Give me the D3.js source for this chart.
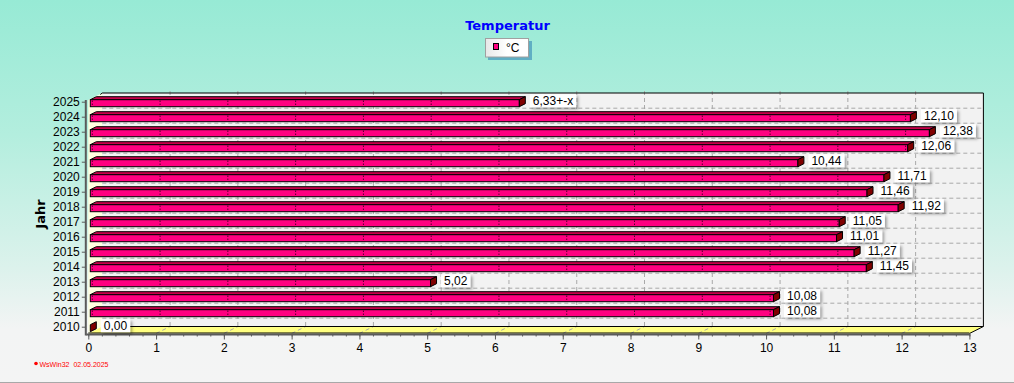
<!DOCTYPE html>
<html><head><meta charset="utf-8">
<script src="https://cdn.jsdelivr.net/npm/d3@7"></script>
<style>html,body{margin:0;padding:0;background:#f4f4f4;}svg{display:block;}</style>
</head><body>
<script>
// ---- data ----
const years = [2010,2011,2012,2013,2014,2015,2016,2017,2018,2019,2020,2021,2022,2023,2024,2025];
const temps = [0.00,10.08,10.08,5.02,11.45,11.27,11.01,11.05,11.92,11.46,11.71,10.44,12.06,12.38,12.10,6.33];
const labels = ["0,00","10,08","10,08","5,02","11,45","11,27","11,01","11,05","11,92","11,46","11,71","10,44","12,06","12,38","12,10","6,33+-x"];
const xTicks = [0,1,2,3,4,5,6,7,8,9,10,11,12,13];
const title = "Temperatur";
const seriesName = "°C";
const yTitle = "Jahr";
const footer = "WsWin32  02.05.2025";

const W = 1014, H = 383;
const svg = d3.select("body").append("svg").attr("width", W).attr("height", H);
const defs = svg.append("defs");
const bg = defs.append("linearGradient").attr("id","bg").attr("x1",0).attr("y1",0).attr("x2",0).attr("y2",1);
[[0,"#97ead5"],[0.35,"#b3eede"],[0.7,"#dcf2ec"],[0.86,"#f3f4f4"],[1,"#f4f4f4"]].forEach(s=>bg.append("stop").attr("offset",s[0]).attr("stop-color",s[1]));
const sh = defs.append("filter").attr("id","sh").attr("x","-20%").attr("y","-30%").attr("width","150%").attr("height","180%");
sh.append("feDropShadow").attr("dx",2).attr("dy",2).attr("stdDeviation",1.4).attr("flood-color","#000").attr("flood-opacity",0.35);
const lg = defs.append("linearGradient").attr("id","lg").attr("x1",0).attr("y1",0).attr("x2",1).attr("y2",0);
lg.append("stop").attr("offset",0).attr("stop-color","#e8e8e8");
lg.append("stop").attr("offset",0.5).attr("stop-color","#ffffff");
lg.append("stop").attr("offset",1).attr("stop-color","#ffffff");

svg.append("rect").attr("width",W).attr("height",H).attr("fill","url(#bg)");
svg.append("line").attr("x1",0).attr("x2",W).attr("y1",H-0.5).attr("y2",H-0.5).attr("stroke","#a8a8a8");

// ---- scales ----
const xs = d3.scaleLinear().domain([0,13]).range([88.3, 969.4]);
const ys = d3.scalePoint().domain(years).range([326.7, 101.7]);
const DX = 14, DY = 7;           // wall depth
const BX = 6, BY = 3;            // bar depth
const yTop = 100, yBot = 333.5;  // front plane extents
const x0 = xs(0), x1 = xs(13);

// back wall
svg.append("rect").attr("x",x0+DX).attr("y",yTop-DY).attr("width",x1-x0).attr("height",yBot-yTop)
  .attr("fill","#f2f2f2");
// left wall
svg.append("polygon").attr("points",[[x0,yTop],[x0+DX,yTop-DY],[x0+DX,yBot-DY],[x0,yBot]].join(" "))
  .attr("fill","#ffffe0");
// floor
svg.append("polygon").attr("points",[[x0,yBot],[x0+DX,yBot-DY],[x1+DX,yBot-DY],[x1,yBot]].join(" "))
  .attr("fill","#ffff80");

// grid on back wall
const grid = svg.append("g").attr("stroke","#a9a9a9").attr("stroke-dasharray","4,3").attr("fill","none");
xTicks.slice(1,-1).forEach(v=>{
  grid.append("line").attr("x1",xs(v)+DX).attr("x2",xs(v)+DX).attr("y1",yTop-DY-2).attr("y2",yBot-DY);
  grid.append("line").attr("x1",xs(v)).attr("x2",xs(v)+DX).attr("y1",yBot).attr("y2",yBot-DY);
});
years.slice(1).forEach(y=>{
  grid.append("line").attr("x1",x0+DX).attr("x2",x1+DX).attr("y1",ys(y)+6.5).attr("y2",ys(y)+6.5);
});

// wall outlines
svg.append("path").attr("d",`M${x0+DX-2},${yTop-DY+1.5}L${x0+DX},${yTop-DY}H${x1+DX}V${yBot-DY}L${x1},${yBot}`)
  .attr("fill","none").attr("stroke","#000");
svg.append("line").attr("x1",x0+DX).attr("x2",x1+DX).attr("y1",yBot-DY).attr("y2",yBot-DY).attr("stroke","#000");
svg.append("line").attr("x1",x0).attr("x2",x1).attr("y1",yBot-0.5).attr("y2",yBot-0.5).attr("stroke","#000");

// ---- bars ----
const bars = svg.append("g").attr("stroke","#000").attr("stroke-width",1).attr("stroke-linejoin","miter");
years.forEach((y,i)=>{
  const c = ys(y), v = temps[i];
  const xa = x0 + 2, xb = xs(v) + 2;
  const t = c - 2, b = c + 5;
  if (xb - xa > 0.5) {
    bars.append("polygon").attr("points",[[xa,t],[xa+BX,t-BY],[xb+BX,t-BY],[xb,t]].join(" ")).attr("fill","#c8004a");
    bars.append("rect").attr("x",xa).attr("y",t).attr("width",xb-xa).attr("height",b-t).attr("fill","#ff0080");
  }
  bars.append("polygon").attr("points",[[xb,t],[xb+BX,t-BY],[xb+BX,b-BY],[xb,b]].join(" ")).attr("fill","#800000");
  xTicks.forEach(k=>{
    const gx = xs(k)+4;
    if (gx > xa+1 && gx < xb-1)
      svg.append("line").attr("x1",gx).attr("x2",gx).attr("y1",t+1).attr("y2",b).attr("stroke","#000").attr("stroke-dasharray","1,2");
  });
});

// ---- axes ----
const axisCol = "#5a5a5a";
const gx = svg.append("g").attr("transform",`translate(0,${yBot+1})`);
gx.call(d3.axisBottom(xs).tickValues(d3.range(0,13.001,0.2)).tickSize(2).tickFormat(""));
gx.call(g=>g.selectAll(".tick line").attr("stroke",axisCol));
const gxm = svg.append("g").attr("transform",`translate(0,${yBot+1})`);
gxm.call(d3.axisBottom(xs).tickValues(xTicks).tickSize(5).tickPadding(4).tickFormat(d3.format("d")));
gxm.selectAll(".tick line").attr("stroke",axisCol);
gxm.selectAll(".tick text").attr("font-family","Liberation Sans, Arial, sans-serif").attr("font-size","12px").attr("fill","#000");
gx.select(".domain").remove(); gxm.select(".domain").remove();
svg.append("line").attr("x1",x0-2).attr("x2",x1+1).attr("y1",yBot+1).attr("y2",yBot+1).attr("stroke",axisCol).attr("stroke-width",2);

const gy = svg.append("g").attr("transform",`translate(${x0-2.5},0)`);
gy.call(d3.axisLeft(ys).tickSize(4).tickPadding(2));
gy.select(".domain").remove();
gy.selectAll(".tick line").attr("stroke",axisCol);
gy.selectAll(".tick text").attr("font-family","Liberation Sans, Arial, sans-serif").attr("font-size","12px").attr("fill","#000");
svg.append("line").attr("x1",x0-2.5).attr("x2",x0-2.5).attr("y1",yTop).attr("y2",yBot+2).attr("stroke",axisCol).attr("stroke-width",2);

// ---- value labels ----
const lab = svg.append("g");
years.forEach((y,i)=>{
  const c = ys(y), v = temps[i];
  const g = lab.append("g");
  const txt = g.append("text").attr("font-family","Liberation Sans, Arial, sans-serif").attr("font-size","12px")
    .attr("fill","#000").text(labels[i]);
  const w = txt.node().getComputedTextLength();
  const left = xs(v) + 12.5;
  g.insert("rect","text").attr("x",left).attr("y",c-7.5).attr("width",w+6).attr("height",13)
    .attr("fill","#ffffff").attr("filter","url(#sh)");
  txt.attr("x",left+3).attr("y",c+3.2);
});

// ---- title, legend ----
svg.append("text").attr("x",507.5).attr("y",30).attr("text-anchor","middle")
  .attr("font-family","DejaVu Sans, sans-serif").attr("font-weight","bold").attr("font-size","13px")
  .attr("fill","#0000ff").text(title);
const leg = svg.append("g");
leg.append("rect").attr("x",488).attr("y",41).attr("width",44).attr("height",19).attr("fill","#55a4bf").attr("opacity",0.85);
leg.append("rect").attr("x",485.5).attr("y",38.5).attr("width",43).attr("height",18.5).attr("fill","url(#lg)")
  .attr("stroke","#a0a0a0");
leg.append("rect").attr("x",493.5).attr("y",43.5).attr("width",5).attr("height",6).attr("fill","#ff0080").attr("stroke","#000");
leg.append("text").attr("x",506).attr("y",52).attr("font-family","Liberation Sans, Arial, sans-serif").attr("font-size","12px").text(seriesName);

// axis title
svg.append("text").attr("transform","translate(45,214) rotate(-90)").attr("text-anchor","middle")
  .attr("font-family","DejaVu Sans, sans-serif").attr("font-weight","bold").attr("font-size","13px").text(yTitle);

// footer
svg.append("circle").attr("cx",36).attr("cy",363.5).attr("r",1.8).attr("fill","#ff0000");
const ft = svg.append("text").attr("x",39.5).attr("y",366.5).attr("font-family","Liberation Sans, Arial, sans-serif").attr("font-size","8px")
  .attr("fill","#ff0000").style("white-space","pre").text(footer);
ft.attr("textLength",69).attr("lengthAdjust","spacingAndGlyphs");
</script>
</body></html>
